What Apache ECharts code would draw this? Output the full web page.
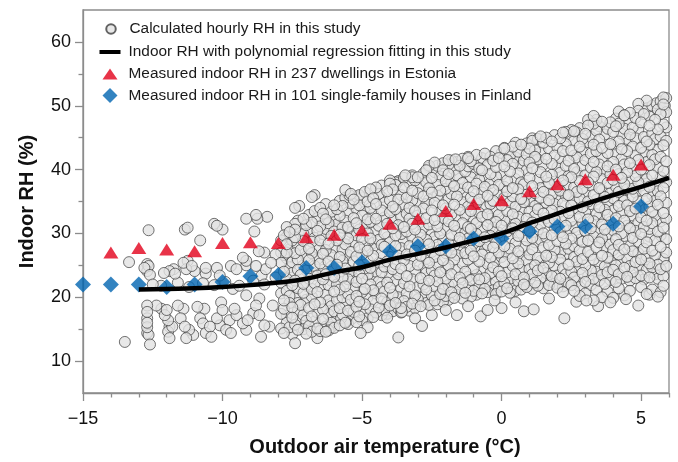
<!DOCTYPE html>
<html>
<head>
<meta charset="utf-8">
<title>Indoor RH vs outdoor air temperature</title>
<script src="https://cdn.jsdelivr.net/npm/echarts@6.0.0/dist/echarts.min.js"></script>
<style>
  html, body { margin: 0; padding: 0; background: #fff; }
  #chart { width: 678px; height: 462px; }
</style>
</head>
<body>
<div id="chart"></div>
<script>
// Measured indoor RH, 237 dwellings in Estonia (by outdoor temperature)
const estoniaT  = [-14, -13, -12, -11, -10, -9, -8, -7, -6, -5, -4, -3, -2, -1, 0, 1, 2, 3, 4, 5];
const estoniaRH = [27.0, 27.7, 27.5, 27.2, 28.5, 28.6, 28.5, 29.4, 29.8, 30.5, 31.5, 32.3, 33.5, 34.6, 35.2, 36.6, 37.7, 38.5, 39.2, 40.8];

// Measured indoor RH, 101 single-family houses in Finland
const finlandT  = [-15, -14, -13, -12, -11, -10, -9, -8, -7, -6, -5, -4, -3, -2, -1, 0, 1, 2, 3, 4, 5];
const finlandRH = [22.0, 22.0, 22.0, 21.6, 22.0, 22.4, 23.3, 23.5, 24.6, 24.6, 25.5, 27.2, 28.0, 28.0, 29.2, 29.2, 30.3, 31.1, 31.1, 31.5, 34.2];

// Polynomial regression curve of the calculated hourly RH
const fitT  = [-13, -12, -11, -10, -9, -8, -7, -6, -5, -4, -3, -2, -1, 0, 1, 2, 3, 4, 5, 6];
const fitRH = [21.2, 21.3, 21.4, 21.6, 21.9, 22.3, 22.9, 23.9, 24.7, 25.9, 26.8, 27.8, 28.9, 30.0, 31.6, 33.1, 34.6, 36.0, 37.3, 38.7];

// Calculated hourly RH at the cold end, [outdoor T, RH]
const hourlyCold = [
  [-13.5,13.0],[-13.35,25.5],[-12.8,24.6],[-12.65,30.5],[-12.7,25.2],[-12.65,24.9],[-12.7,24.1],[-12.6,23.5],
  [-12.7,18.7],[-12.7,17.7],[-12.7,16.7],[-12.7,16.0],[-12.7,15.3],[-12.7,14.4],[-12.65,14.1],[-12.6,12.6],
  [-12.5,22.0],[-12.37,18.7],[-12.2,21.8],[-12.19,18.2],[-12.1,23.8],[-12.0,18.0],[-12.07,17.2],[-11.95,16.4],
  [-11.9,15.4],[-11.95,14.6],[-11.9,13.6],[-11.9,24.1],[-11.8,15.4],[-11.75,24.4],[-11.7,23.7],[-11.6,18.7],
  [-11.6,22.3],[-11.5,16.7],[-11.4,18.2],[-11.4,25.4],[-11.35,15.4],[-11.35,30.6],[-11.3,24.4],[-11.3,13.6],
  [-11.25,25.7],[-11.25,30.9],[-11.2,14.9],[-11.2,21.6],[-11.1,24.9],[-11.05,14.1],[-11.0,24.1],[-10.9,18.5],
  [-10.8,16.7],[-10.8,28.9],[-10.7,15.9],[-10.7,22.2],[-10.65,18.2],[-10.6,14.4],[-10.6,24.6],[-10.6,23.7],
  [-10.45,15.4],[-10.4,13.8],[-10.3,31.5],[-10.3,21.9],[-10.2,31.2],[-10.2,16.7],[-10.2,24.6],[-10.1,23.4],
  [-10.1,15.6],[-10.05,19.2],[-10.0,18.0],[-10.0,30.6],[-9.9,22.4],[-9.87,14.9],[-9.75,16.4],[-9.7,14.4],
  [-9.7,24.9],[-9.63,21.3],[-9.57,18.2],[-9.5,17.2],[-9.5,24.4],[-9.4,21.8],[-9.27,15.9],[-9.27,26.2],
  [-9.15,25.7],[-9.15,20.3],[-9.15,14.9],[-9.15,32.3],[-9.15,25.0],[-9.1,16.4],[-8.9,17.5],[-8.9,22.6],
  [-8.86,30.3],[-8.8,18.7],[-8.8,24.9],[-8.8,32.9],[-8.75,32.3],[-8.7,27.2],[-8.68,17.2],[-8.68,19.8],
  [-8.62,13.8],[-8.6,23.4],[-8.5,15.6],[-8.5,22.0],[-8.5,27.0],[-8.45,24.4],[-8.4,32.6],[-8.32,15.4],
  [-8.26,25.4],[-8.2,18.7],[-8.1,23.1],[-8.1,26.7],[-7.7,29.5],[-7.7,27.0],[-7.4,30.6]
];

// Calculated hourly RH in the dense range, grouped by outdoor T: [T, [RH...]]
const hourlyCols = [
  [-7.9,[15.1,17.4,20.6,22.3,25.4,27.0,28.9]],
  [-7.8,[14.4,18.2,19.5,23.1,24.0,26.6,29.7]],
  [-7.7,[16.0,17.1,21.0,22.9,26.1,28.3,31.0]],
  [-7.6,[15.3,19.1,20.2,24.7,27.5,30.2]],
  [-7.5,[14.2,16.8,18.4,21.9,23.8,25.5,28.9]],
  [-7.4,[15.7,20.0,22.6,26.9,29.4,31.5]],
  [-7.3,[14.9,17.9,19.1,21.4,24.3,25.9,28.1,32.0]],
  [-7.2,[16.4,18.8,23.5,27.4,30.6]],
  [-7.1,[15.0,17.2,20.7,22.1,25.0,28.8,29.9,32.3]],
  [-7.0,[14.3,16.3,19.6,21.8,24.2,26.4,31.3]],
  [-6.9,[15.5,18.3,22.9,25.8,27.6,30.0,32.9]],
  [-6.8,[14.6,17.0,20.1,21.3,23.9,26.9,28.7,31.7]],
  [-6.7,[16.2,18.9,22.2,24.9,29.3,33.5]],
  [-6.6,[15.1,17.6,20.8,23.4,26.0,27.8,30.4,32.4]],
  [-6.5,[14.7,19.2,21.7,25.3,28.9,31.1,34.0]],
  [-6.4,[16.6,18.1,22.8,24.3,26.8,29.9,33.1]],
  [-6.3,[15.4,20.4,23.6,27.4,30.7,32.2,34.6]],
  [-6.2,[14.8,17.3,19.5,21.9,25.6,28.4,31.6]],
  [-6.1,[16.0,18.6,22.6,24.8,26.6,29.6,33.4]],
  [-6.0,[15.2,17.8,20.9,23.2,27.8,30.3,32.3,34.4]],
  [-5.9,[16.8,19.6,22.0,25.1,28.9,31.4,33.8]],
  [-5.8,[15.6,18.3,21.2,24.0,26.3,29.8,32.8,35.1]],
  [-5.7,[17.3,20.0,23.1,25.7,27.5,30.9,34.3]],
  [-5.6,[16.2,19.0,21.7,24.5,28.3,32.0,35.6]],
  [-5.5,[15.8,17.9,20.5,22.8,26.6,29.2,31.0,33.3]],
  [-5.4,[16.5,19.6,24.1,27.1,30.2,34.7,36.2]],
  [-5.3,[17.7,21.4,23.0,25.6,28.6,32.4,35.3]],
  [-5.2,[16.1,18.5,20.2,22.4,26.4,29.7,31.6,33.9]],
  [-5.1,[17.0,19.3,23.7,25.0,27.8,30.6,34.4,36.0]],
  [-5.0,[16.4,20.8,22.9,26.7,29.1,32.8,35.6]],
  [-4.9,[17.5,18.9,21.3,24.5,28.0,31.3,33.4,36.5]],
  [-4.8,[16.7,20.0,23.5,25.8,27.3,30.0,32.2,35.0]],
  [-4.7,[18.1,22.0,24.6,29.2,31.8,34.0,36.9]],
  [-4.6,[16.9,19.4,21.1,23.2,26.5,28.5,33.0,35.5]],
  [-4.5,[17.6,20.6,24.0,27.6,30.4,32.3,34.6,37.2]],
  [-4.4,[18.4,22.5,25.4,29.0,31.2,36.2]],
  [-4.3,[17.2,19.8,21.6,23.9,26.9,28.2,33.6,35.7,37.5]],
  [-4.2,[18.0,20.9,24.8,27.9,30.0,32.5,34.8]],
  [-4.1,[17.4,19.2,22.3,25.6,29.4,31.5,36.6]],
  [-4.0,[18.7,21.5,23.3,26.3,28.6,33.3,35.2,37.8]],
  [-3.9,[17.8,20.4,24.4,27.0,30.8,32.0,34.2,36.9]],
  [-3.8,[19.1,22.6,25.2,28.0,29.7,33.8,37.6]],
  [-3.7,[18.2,20.0,23.6,26.5,31.3,35.3,38.2]],
  [-3.6,[17.6,21.3,24.5,27.7,29.9,32.6,36.0]],
  [-3.5,[19.4,22.2,25.8,28.8,31.0,34.5,37.2,38.7]],
  [-3.4,[18.5,20.6,23.3,26.7,30.3,33.1,35.6]],
  [-3.3,[17.9,21.7,24.9,28.0,32.3,34.0,37.9]],
  [-3.2,[19.0,22.8,26.0,29.4,31.5,35.2,36.7,39.1]],
  [-3.1,[18.3,20.3,24.1,27.3,30.6,33.5,38.3]],
  [-3.0,[19.7,21.6,25.1,28.6,32.8,34.9,36.3,38.8]],
  [-2.9,[18.6,23.0,26.5,29.8,31.8,37.4]],
  [-2.8,[20.0,22.0,24.6,27.6,30.9,33.9,35.8,39.4]],
  [-2.7,[19.1,21.2,23.8,26.0,29.0,32.4,34.6,38.0,39.9]],
  [-2.6,[18.8,22.6,25.4,28.3,31.4,35.3,37.1,40.3]],
  [-2.5,[20.3,24.2,27.1,30.3,33.6,36.4,38.7]],
  [-2.4,[19.5,21.7,23.4,26.3,29.4,32.1,34.8,39.6]],
  [-2.3,[18.9,22.5,25.2,28.2,31.1,35.9,37.6,40.6]],
  [-2.2,[20.5,23.9,27.4,30.0,33.3,36.7,38.9]],
  [-2.1,[19.3,21.3,25.8,28.9,32.4,34.4,39.9,41.0]],
  [-2.0,[20.2,22.9,24.6,26.9,30.7,33.9,37.0,38.2]],
  [-1.9,[19.6,21.9,25.0,28.4,31.9,35.4,39.3,40.8]],
  [-1.8,[20.8,23.6,27.0,29.8,33.0,36.2,38.0,41.4]],
  [-1.7,[19.9,22.3,25.9,28.1,31.2,34.5,37.4,40.0]],
  [-1.6,[20.4,24.3,26.6,30.4,32.7,35.8,39.1,41.2]],
  [-1.5,[21.2,23.1,27.7,29.3,33.7,36.9,38.6,40.6]],
  [-1.4,[19.8,22.2,25.3,28.7,31.6,34.9,37.9,41.7]],
  [-1.3,[20.7,24.0,26.9,30.1,32.9,36.1,39.7]],
  [-1.2,[21.5,23.2,25.9,29.2,31.0,34.2,37.2,40.5,42.0]],
  [-1.1,[20.1,22.7,27.3,30.7,33.5,35.6,38.8,41.3]],
  [-1.0,[21.0,24.5,26.4,28.4,32.2,36.6,39.5,40.9]],
  [-0.9,[20.4,23.5,27.9,29.9,31.6,34.7,37.8,42.3]],
  [-0.8,[21.8,22.8,25.6,28.8,33.2,35.3,38.4,40.2]],
  [-0.7,[20.6,24.2,26.7,30.5,32.6,36.4,39.9,41.8]],
  [-0.6,[21.3,23.0,27.4,29.4,34.1,37.3,38.6,42.5]],
  [-0.5,[20.8,25.2,28.2,31.3,33.0,35.9,40.7]],
  [-0.4,[22.0,23.8,26.2,29.6,32.3,34.6,37.9,39.3,42.0]],
  [-0.3,[21.1,24.7,27.8,30.9,35.1,36.8,41.4]],
  [-0.2,[20.5,22.4,25.8,28.5,31.8,33.7,38.9,40.4,42.9]],
  [-0.1,[21.6,24.0,27.0,30.1,32.9,36.2,37.6,41.8]],
  [0.0,[20.9,23.3,26.3,29.1,31.2,34.4,39.2,42.6]],
  [0.1,[22.2,25.5,28.0,32.1,35.6,37.3,40.5,43.3]],
  [0.2,[21.4,23.9,26.8,30.3,33.5,36.6,38.3,41.5]],
  [0.3,[20.7,22.9,27.6,29.2,31.9,34.9,39.7,42.2]],
  [0.4,[21.9,24.9,26.1,30.8,33.0,35.8,37.1,40.9,43.6]],
  [0.5,[21.0,23.6,28.5,31.5,34.2,38.5,41.9]],
  [0.6,[22.5,25.3,27.2,29.6,32.6,36.9,39.4,42.8]],
  [0.7,[21.2,24.3,26.5,30.1,33.8,35.4,38.0,40.6,43.9]],
  [0.8,[22.0,23.1,27.9,31.0,34.9,37.7,41.4]],
  [0.9,[21.6,25.8,28.9,32.3,36.1,39.9,42.4,44.1]],
  [1.0,[22.8,24.4,26.7,30.4,33.4,35.0,38.7,41.1,43.3]],
  [1.1,[21.3,23.6,27.5,29.3,31.7,37.4,40.2,44.5]],
  [1.2,[22.3,25.0,28.6,32.8,34.3,36.3,42.0,43.0]],
  [1.3,[21.8,24.2,26.2,30.6,33.8,38.4,41.6,44.8]],
  [1.4,[23.0,25.7,29.0,31.4,35.6,37.1,39.6,42.7]],
  [1.5,[21.4,24.6,27.8,30.0,33.1,36.5,40.8,44.2]],
  [1.6,[22.6,23.8,26.5,29.4,32.4,34.8,38.9,41.7,45.0]],
  [1.7,[21.9,25.4,28.2,31.8,35.2,37.9,43.3]],
  [1.8,[23.3,26.3,29.7,33.6,36.1,39.2,40.9,44.4]],
  [1.9,[22.1,24.9,27.4,30.9,32.2,34.6,38.1,42.2,45.4]],
  [2.0,[21.5,23.4,28.8,31.5,35.3,37.3,40.4,43.5]],
  [2.1,[22.9,25.9,27.0,30.2,33.4,36.7,39.5,41.8,44.9]],
  [2.2,[21.7,24.5,29.4,32.5,34.7,38.3,42.9,45.8]],
  [2.3,[23.6,26.8,28.4,31.2,35.9,37.6,40.6,44.0]],
  [2.4,[22.2,25.1,27.6,30.5,33.2,36.0,39.0,41.4,45.2]],
  [2.5,[21.9,24.0,29.2,32.0,34.4,38.8,43.0,46.2]],
  [2.6,[23.1,26.3,28.0,31.0,35.1,37.2,40.1,42.2,44.5]],
  [2.7,[22.5,25.6,30.1,33.9,36.5,39.6,41.9,45.8]],
  [2.8,[21.6,24.4,27.3,29.0,32.6,35.5,38.2,43.6,46.5]],
  [2.9,[23.8,26.0,28.7,31.6,34.1,37.0,40.6,42.8,44.8]],
  [3.0,[22.4,25.0,30.4,33.3,36.4,39.1,41.5,45.6]],
  [3.1,[23.3,27.1,28.9,32.2,35.0,38.0,44.3,46.9]],
  [3.2,[21.9,24.2,26.6,30.8,34.6,37.5,40.3,42.5,45.1]],
  [3.3,[22.9,25.9,29.5,31.9,36.0,38.9,41.2,43.9,47.2]],
  [3.4,[24.0,27.8,30.2,33.0,35.3,39.6,42.9,46.1]],
  [3.5,[22.6,25.3,28.6,32.6,34.1,37.1,40.8,44.7,46.8]],
  [3.6,[23.5,26.5,29.2,31.4,36.8,38.5,41.9,43.4,47.5]],
  [3.7,[22.1,24.8,27.9,30.6,33.7,35.7,39.8,45.5]],
  [3.8,[23.9,26.2,29.9,32.9,34.9,37.9,40.5,42.6,46.4]],
  [3.9,[22.7,25.6,28.3,31.8,36.3,39.2,44.0,47.4]],
  [4.0,[24.3,27.4,30.5,33.6,35.5,38.4,41.2,43.8,45.9]],
  [4.1,[22.4,25.0,29.1,32.4,37.3,40.0,42.4,46.8,48.0]],
  [4.2,[23.6,26.7,28.2,31.1,34.3,36.5,39.3,44.4,47.2]],
  [4.3,[22.9,25.7,30.0,33.2,35.9,38.7,41.7,43.2,45.6]],
  [4.4,[24.6,27.5,29.6,32.0,35.1,37.7,40.8,46.4,48.5]],
  [4.5,[23.2,26.1,31.2,34.4,36.9,39.6,42.9,44.8,47.7]],
  [4.6,[22.6,24.9,28.0,30.8,33.5,38.2,41.0,45.5,48.9]],
  [4.7,[24.0,27.2,29.3,32.8,35.8,37.0,40.2,43.6,46.6]],
  [4.8,[23.0,25.5,30.4,33.9,36.4,39.0,42.2,44.9,48.1]],
  [4.9,[24.8,26.9,28.7,31.7,35.0,38.0,41.5,46.2,49.2]],
  [5.0,[23.4,25.9,29.9,32.5,34.0,37.5,40.0,43.4,47.4]],
  [5.1,[22.8,27.6,31.0,33.6,36.7,39.4,42.7,45.1,48.7]],
  [5.2,[24.3,26.4,28.6,32.0,35.4,38.5,41.2,44.4,49.6]],
  [5.3,[23.1,25.3,29.5,30.7,34.2,37.3,40.7,43.9,46.9,48.3]],
  [5.4,[24.7,27.3,31.6,33.4,36.0,39.1,42.3,45.7,50.0]],
  [5.5,[23.6,26.6,28.9,32.8,35.1,37.8,41.6,44.8,47.8]],
  [5.6,[22.9,25.1,30.3,34.5,36.6,40.3,43.1,46.3,49.4]],
  [5.7,[24.4,27.9,29.7,31.9,35.8,38.8,42.0,45.2,48.7,50.7]],
  [5.8,[23.3,26.0,30.9,33.2,37.1,39.8,43.8,47.1,50.2]],
  [5.9,[24.9,27.0,29.1,32.3,34.8,38.0,41.3,44.5,46.6,49.0,51.2]]
];

// Calculated hourly RH on the fringes of the dense range, [outdoor T, RH]
const hourlyEdge = [
  [-7.4,12.8],[-6.6,13.6],[-6.3,14.6],[-6.1,15.3],[-5.6,16.0],[-5.75,16.7],[-5.05,14.4],[-4.8,15.3],
  [-4.1,16.8],[-3.7,13.7],[-3.6,18.3],[-3.57,17.7],[-3.1,16.7],[-2.85,15.5],[-2.5,17.2],[-1.6,17.2],
  [-0.75,17.0],[-0.5,18.0],[-0.25,19.5],[0.0,18.3],[0.5,19.2],[0.8,17.8],[1.15,18.1],[2.25,16.7],
  [2.68,19.3],[3.04,19.5],[3.3,19.5],[3.46,18.6],[3.9,19.2],[4.46,19.7],[4.9,18.7],[5.3,20.4],
  [5.7,20.8],[1.7,19.8],[-1.2,18.6],[-2.0,18.0],
  [2.2,20.8],[2.6,21.0],[3.0,20.6],[3.4,21.2],[3.8,20.9],[4.2,21.4],[4.6,21.0],[5.0,21.6],
  [5.4,21.2],[5.8,21.8],[2.8,20.2],[3.6,20.0],[4.4,20.3],[5.2,20.5],[5.6,20.1],[4.0,19.9],
  [-7.4,34.0],[-7.25,34.3],[-6.8,35.7],[-6.7,36.0],[-5.6,36.8],[-5.45,36.0],[-5.2,35.7],[-4.0,38.3],
  [-3.8,38.0],[-3.45,39.1],[-3.2,38.8],[-2.6,40.6],[-2.4,41.1],[-1.9,41.5],[-1.65,41.6],[-1.2,41.8],
  [0.1,43.4],[0.5,44.2],[1.1,44.9],[1.4,45.2],[2.3,45.9],[2.6,46.0],[3.1,47.8],[3.3,48.4],
  [3.4,47.8],[4.2,49.1],[4.4,48.5],[4.9,50.3],[5.2,50.8],[5.55,50.4],[5.8,51.3],[5.85,50.0]
];

// Axis ticks
const xMajorTicks = [-15, -10, -5, 0, 5];
const xMinorTicks = [-14, -13, -12, -11, -9, -8, -7, -6, -4, -3, -2, -1, 1, 2, 3, 4, 6];
const yMajorTicks = [10, 20, 30, 40, 50, 60];
const yMinorTicks = [15, 25, 35, 45, 55];

const NAMES = {
  hourly: 'Calculated hourly RH in this study',
  fit: 'Indoor RH with polynomial regression fitting in this study',
  estonia: 'Measured indoor RH in 237 dwellings in Estonia',
  finland: 'Measured indoor RH in 101 single-family houses in Finland'
};

const hourlyPoints = [];
hourlyCold.forEach(p => hourlyPoints.push(p));
hourlyCols.forEach(([t, list]) => list.forEach(rh => hourlyPoints.push([t, rh])));
hourlyEdge.forEach(p => hourlyPoints.push(p));
// Mix the drawing order so overlapping circles stack irregularly, as hourly records do
const drawKey = p => (Math.round(p[1] * 10) * 37 + Math.round(p[0] * 10) * 11 + 1000) % 17;
hourlyPoints.sort((a, b) => drawKey(a) - drawKey(b));

const zip = (xs, ys) => xs.map((x, i) => [x, ys[i]]);

const FONT = '"Liberation Sans", Arial, Helvetica, sans-serif';
const AXIS_GRAY = '#8c8c8c';
const minus = v => String(v).replace('-', '\u2212');

const legendBase = {
  orient: 'vertical',
  itemWidth: 27,
  padding: 0,
  selectedMode: false,
  textStyle: { fontSize: 15.4, color: '#1a1a1a', fontFamily: FONT }
};

const option = {
  animation: false,
  backgroundColor: '#fff',
  textStyle: { fontFamily: FONT },
  grid: {
    left: 83, right: 9, top: 10, bottom: 63,
    show: true, borderColor: AXIS_GRAY, borderWidth: 1.3, backgroundColor: 'transparent'
  },
  legend: [
    Object.assign({}, legendBase, { left: 105.25, top: 21.5, itemHeight: 9.5,
      data: [{ name: NAMES.hourly, icon: 'circle' }] }),
    Object.assign({}, legendBase, { left: 99.5, top: 44.5, itemHeight: 4,
      data: [{ name: NAMES.fit, icon: 'path://M0,0L21,0L21,4L0,4Z' }] }),
    Object.assign({}, legendBase, { left: 102.5, top: 66.5, itemHeight: 11,
      data: [{ name: NAMES.estonia, icon: 'path://M0,11L7.5,0L15,11Z' }] }),
    Object.assign({}, legendBase, { left: 102.5, top: 88, itemHeight: 15,
      data: [{ name: NAMES.finland, icon: 'path://M7.5,0L15,7.5L7.5,15L0,7.5Z' }] })
  ],
  xAxis: [
    {
      type: 'value', min: -15, max: 6, gridIndex: 0, position: 'bottom',
      name: 'Outdoor air temperature (\u00B0C)', nameLocation: 'middle', nameGap: 44,
      nameTextStyle: { fontSize: 20, fontWeight: 'bold', color: '#111', fontFamily: FONT, padding: [0, 0, 0, 18] },
      axisLine: { show: true, onZero: false, lineStyle: { color: AXIS_GRAY, width: 1.3 } },
      axisTick: { show: true, inside: false, length: 8, customValues: xMajorTicks, lineStyle: { color: AXIS_GRAY, width: 1.3 } },
      axisLabel: { show: true, customValues: xMajorTicks, margin: 17, fontSize: 18, color: '#111', fontFamily: FONT, formatter: minus },
      splitLine: { show: false }
    },
    {
      type: 'value', min: -15, max: 6, gridIndex: 0, position: 'bottom',
      axisLine: { show: false, onZero: false },
      axisTick: { show: true, inside: false, length: 4.5, customValues: xMinorTicks, lineStyle: { color: AXIS_GRAY, width: 1.3 } },
      axisLabel: { show: false },
      splitLine: { show: false }
    }
  ],
  yAxis: [
    {
      type: 'value', min: 5, max: 65, gridIndex: 0, position: 'left',
      name: 'Indoor RH (%)', nameLocation: 'middle', nameGap: 46,
      nameTextStyle: { fontSize: 20, fontWeight: 'bold', color: '#111', fontFamily: FONT },
      axisLine: { show: true, onZero: false, lineStyle: { color: AXIS_GRAY, width: 1.3 } },
      axisTick: { show: true, inside: false, length: 8, customValues: yMajorTicks, lineStyle: { color: AXIS_GRAY, width: 1.3 } },
      axisLabel: { show: true, customValues: yMajorTicks, margin: 12, fontSize: 18, color: '#111', fontFamily: FONT },
      splitLine: { show: false }
    },
    {
      type: 'value', min: 5, max: 65, gridIndex: 0, position: 'left',
      axisLine: { show: false, onZero: false },
      axisTick: { show: true, inside: false, length: 4.5, customValues: yMinorTicks, lineStyle: { color: AXIS_GRAY, width: 1.3 } },
      axisLabel: { show: false },
      splitLine: { show: false }
    }
  ],
  series: [
    {
      name: NAMES.hourly, type: 'scatter', xAxisIndex: 0, yAxisIndex: 0,
      data: hourlyPoints, symbol: 'circle', symbolSize: 11, large: false,
      itemStyle: { color: '#e2e2e2', borderColor: '#3c3c3c', borderWidth: 0.9 },
      emphasis: { disabled: true }
    },
    {
      name: NAMES.fit, type: 'line', xAxisIndex: 0, yAxisIndex: 0,
      data: zip(fitT, fitRH), smooth: true, showSymbol: false, symbol: 'none',
      itemStyle: { color: '#000' },
      lineStyle: { color: '#000', width: 4.5 },
      emphasis: { disabled: true }
    },
    {
      name: NAMES.estonia, type: 'scatter', xAxisIndex: 0, yAxisIndex: 0,
      data: zip(estoniaT, estoniaRH), symbol: 'triangle', symbolSize: [15, 12],
      itemStyle: { color: '#e2001a' },
      emphasis: { disabled: true }
    },
    {
      name: NAMES.finland, type: 'scatter', xAxisIndex: 0, yAxisIndex: 0,
      data: zip(finlandT, finlandRH), symbol: 'diamond', symbolSize: 16,
      itemStyle: { color: '#0064b0' },
      emphasis: { disabled: true }
    }
  ]
};

const chart = echarts.init(document.getElementById('chart'), null, { renderer: 'canvas' });
chart.setOption(option);
</script>
</body>
</html>
